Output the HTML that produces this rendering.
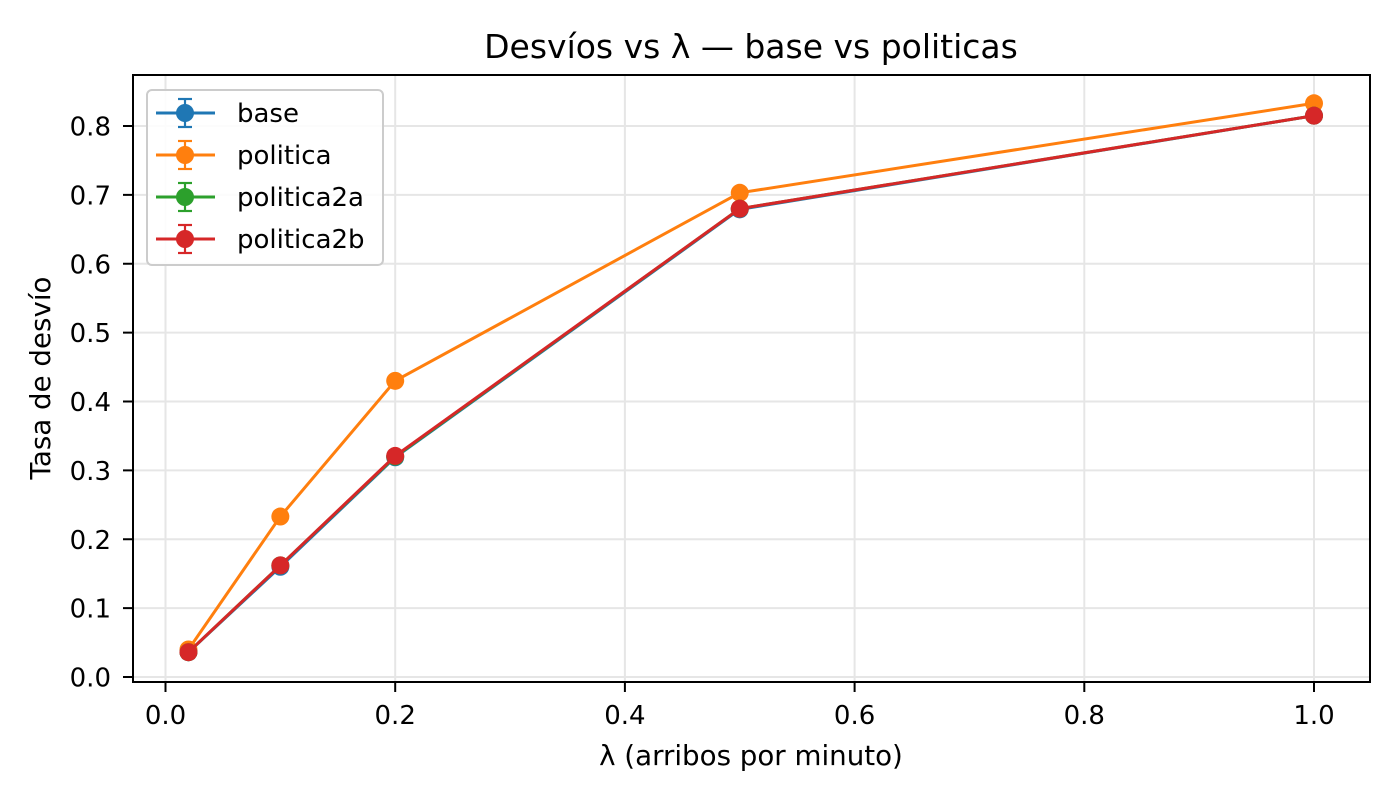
<!DOCTYPE html>
<html><head><meta charset="utf-8"><style>body{margin:0;background:#fff}svg{font-family:"DejaVu Sans","Liberation Sans",sans-serif}</style></head>
<body>
<svg id="c" width="1400" height="800" xmlns="http://www.w3.org/2000/svg"></svg>
<script>
const xs=[0.02,0.1,0.2,0.5,1.0];
const base=[0.036,0.160,0.319,0.679,0.815];
const politica=[0.040,0.233,0.430,0.703,0.833];
const politica2a=[0.036,0.162,0.320,0.680,0.815];
const politica2b=[0.036,0.162,0.321,0.680,0.815];
const xTicks=[0,0.2,0.4,0.6,0.8,1.0];
const yTicks=[0,0.1,0.2,0.3,0.4,0.5,0.6,0.7,0.8];
const names=["base","politica","politica2a","politica2b"];
const colors=["#1f77b4","#ff7f0e","#2ca02c","#d62728"];
const L=133,R=1370,T=75,B=682;
const X=v=>165.5+v*1148.5, Y=v=>677-v*688.75;
const svg=document.getElementById('c');const NS="http://www.w3.org/2000/svg";
function mk(t,a,p){const e=document.createElementNS(NS,t);for(const k in a)e.setAttribute(k,a[k]);(p||svg).appendChild(e);return e;}
let g=mk('g',{});


xTicks.forEach(v=>{mk('line',{x1:X(v),x2:X(v),y1:T,y2:B,stroke:'#e6e6e6','stroke-width':2},g);
 mk('line',{x1:X(v),x2:X(v),y1:B,y2:B+10,stroke:'#000','stroke-width':2});
 const t=mk('text',{x:X(v),y:724,'font-size':26,'text-anchor':'middle'});t.textContent=v.toFixed(1);
 
 });
yTicks.forEach(v=>{mk('line',{x1:L,x2:R,y1:Y(v),y2:Y(v),stroke:'#e6e6e6','stroke-width':2},g);
 mk('line',{x1:L-10,x2:L,y1:Y(v),y2:Y(v),stroke:'#000','stroke-width':2});
 const t=mk('text',{x:111,y:Y(v)+9.5,'font-size':26,'text-anchor':'end'});t.textContent=v.toFixed(1);
 
 });
const series=[base,politica,politica2a,politica2b];
series.forEach((s,i)=>{const sg=mk('g',{});
 
 
 mk('polyline',{points:s.map((v,j)=>X(xs[j])+','+Y(v)).join(' '),fill:'none',stroke:colors[i],'stroke-width':3},sg);
 s.forEach((v,j)=>{const c=mk('circle',{cx:X(xs[j]),cy:Y(v),r:9,fill:colors[i]},sg);
  
  });});
mk('rect',{x:L,y:T,width:R-L,height:B-T,fill:'none',stroke:'#000','stroke-width':2});
let t=mk('text',{x:751,y:58,'font-size':33,'text-anchor':'middle'});t.textContent='Desvíos vs λ — base vs politicas';


t=mk('text',{x:751,y:765,'font-size':27.7,'text-anchor':'middle'});t.textContent='λ (arribos por minuto)';


t=mk('text',{x:0,y:0,'font-size':27.7,'text-anchor':'middle',transform:'translate(50,378) rotate(-90)'});t.textContent='Tasa de desvío';


const lg=mk('g',{});


mk('rect',{x:147,y:90,width:236,height:175,rx:5,fill:'#fff','fill-opacity':0.85,stroke:'#ccc','stroke-width':2},lg);
names.forEach((n,i)=>{const y=113+i*42;const e=mk('g',{},lg);
 
 
 mk('line',{x1:156,x2:215,y1:y,y2:y,stroke:colors[i],'stroke-width':3},e);
 mk('line',{x1:185,x2:185,y1:y-14,y2:y+14,stroke:colors[i],'stroke-width':2.2},e);
 mk('line',{x1:178,x2:192,y1:y-14,y2:y-14,stroke:colors[i],'stroke-width':2.2},e);
 mk('line',{x1:178,x2:192,y1:y+14,y2:y+14,stroke:colors[i],'stroke-width':2.2},e);
 mk('circle',{cx:185,cy:y,r:9,fill:colors[i]},e);
 const tt=mk('text',{x:237,y:y+9,'font-size':26},e);tt.textContent=n;});
</script>
</body></html>
